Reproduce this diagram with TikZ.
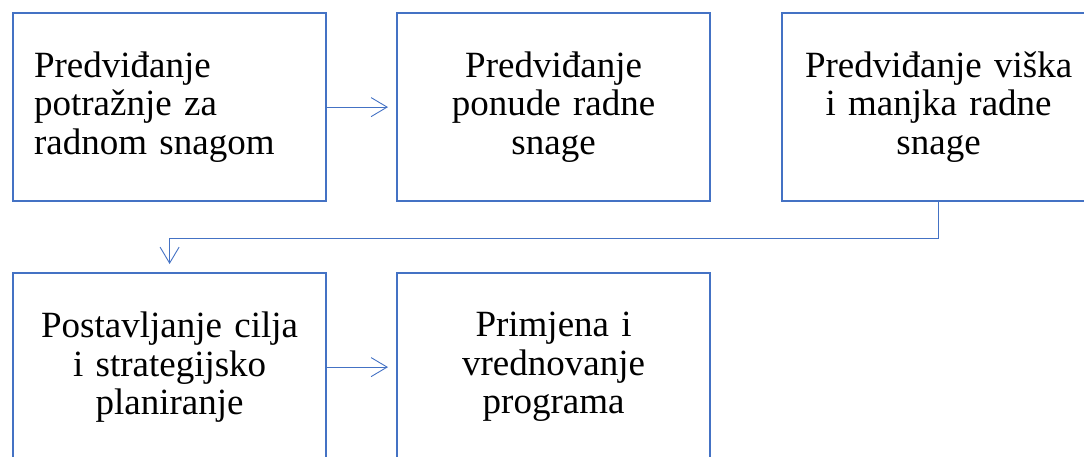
\documentclass[tikz,border=0pt]{standalone}
\usepackage{fontspec}
\setmainfont{Liberation Serif}
\usetikzlibrary{arrows.meta}
\definecolor{accent}{HTML}{4472C4}
\begin{document}
\begin{tikzpicture}[x=1pt,y=-1pt,
  box/.style={draw=accent, line width=2.2pt, minimum width=313pt, minimum height=188pt,
    inner sep=0pt, font=\fontsize{37}{38.5}\selectfont, align=center, text width=290pt,
    anchor=north west},
  leftbox/.style={box, align=left, text width=271pt},
  conn/.style={draw=accent, line width=0.9pt,
    -{Straight Barb[length=16pt,width=19pt,line width=0.9pt]}, shorten >=8pt}]
\useasboundingbox (0,0) rectangle (1084,456);
\clip (0,0) rectangle (1084,456);
\node[leftbox] (b1) at (12,12) {Predviđanje\\potražnje za\\radnom snagom};
\node[box] (b2) at (396,12) {Predviđanje\\ponude radne\\snage};
\node[box] (b3) at (781,12) {Predviđanje viška\\i manjka radne\\snage};
\node[box] (b4) at (12,272) {Postavljanje cilja\\i strategijsko\\planiranje};
\node[box] (b5) at (396,272) {Primjena i\\vrednovanje\\programa};
\draw[conn] (b1.east) -- (b2.west);
\draw[conn] (b3.south) -- ++(0,36) -| (b4.north);
\draw[conn] (b4.east) -- (b5.west);
\end{tikzpicture}
\end{document}
